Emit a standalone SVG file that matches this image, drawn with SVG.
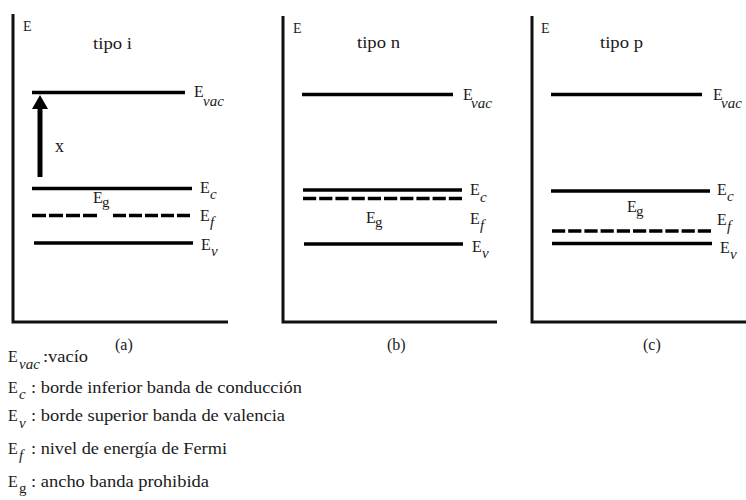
<svg xmlns="http://www.w3.org/2000/svg" width="746" height="500" viewBox="0 0 746 500" font-family="Liberation Serif, serif" font-size="16">
<style>
text { fill: #1a1a1a; }
.ax { font-size: 14px; }
.it { font-style: italic; }
.sb { font-size: 15px; }
.lvl { stroke: #000; stroke-width: 3.5; fill: none; }
.dash { stroke: #000; stroke-width: 3.5; fill: none; stroke-dasharray: 13.2 3; }
.axis { stroke: #111; stroke-width: 3; fill: none; }
</style>
<rect width="746" height="500" fill="#fff"/>

<g id="panel-a">
  <path class="axis" d="M13,14 V322 H228"/>
  <text class="ax" x="23" y="31">E</text>
  <text x="93" y="49" textLength="39" lengthAdjust="spacingAndGlyphs">tipo i</text>
  <line class="lvl" x1="32" y1="92.5" x2="185" y2="92.5"/>
  <line class="lvl" x1="32" y1="188.5" x2="192" y2="188.5"/>
  <line class="dash" x1="32" y1="215.5" x2="97" y2="215.5" style="stroke-dasharray:14 3"/>
  <line class="dash" x1="113" y1="215.5" x2="190" y2="215.5" style="stroke-dasharray:13 3"/>
  <line class="lvl" x1="34" y1="243" x2="193" y2="243"/>
  <text x="194" y="97">E</text><text class="it sb" x="203" y="106">vac</text>
  <text x="200" y="193">E</text><text class="it sb" x="210" y="199">c</text>
  <text x="200" y="221">E</text><text class="it sb" x="210" y="227">f</text>
  <text x="201" y="250">E</text><text class="it sb" x="211" y="256">v</text>
  <text x="93" y="203">E</text><text class="sb" x="102" y="207">g</text>
  <text x="55" y="152" style="font-size:18px">x</text>
  <text x="115" y="350">(a)</text>
</g>

<g id="panel-b">
  <path class="axis" d="M283,16 V322 H497"/>
  <text class="ax" x="293" y="33">E</text>
  <text x="357" y="48" textLength="43" lengthAdjust="spacingAndGlyphs">tipo n</text>
  <line class="lvl" x1="302" y1="94.5" x2="453" y2="94.5"/>
  <line class="lvl" x1="303" y1="190" x2="462" y2="190"/>
  <line class="dash" x1="303" y1="198.5" x2="462" y2="198.5"/>
  <line class="lvl" x1="304" y1="244" x2="463" y2="244"/>
  <text x="463" y="100">E</text><text class="it sb" x="471" y="108">vac</text>
  <text x="470" y="195">E</text><text class="it sb" x="480" y="202">c</text>
  <text x="470" y="224">E</text><text class="it sb" x="480" y="230">f</text>
  <text x="472" y="252">E</text><text class="it sb" x="482" y="258">v</text>
  <text x="366" y="223">E</text><text class="sb" x="375" y="227">g</text>
  <text x="387" y="350">(b)</text>
</g>

<g id="panel-c">
  <path class="axis" d="M532,16 V322 H746"/>
  <text class="ax" x="541" y="33">E</text>
  <text x="600" y="48" textLength="43" lengthAdjust="spacingAndGlyphs">tipo p</text>
  <line class="lvl" x1="551" y1="94.5" x2="702" y2="94.5"/>
  <line class="lvl" x1="551" y1="191" x2="710" y2="191"/>
  <line class="dash" x1="552" y1="231" x2="712" y2="231"/>
  <line class="lvl" x1="552" y1="243.5" x2="712" y2="243.5"/>
  <text x="713" y="100">E</text><text class="it sb" x="721" y="108">vac</text>
  <text x="717" y="195">E</text><text class="it sb" x="727" y="201">c</text>
  <text x="717" y="225">E</text><text class="it sb" x="727" y="231">f</text>
  <text x="720" y="253">E</text><text class="it sb" x="730" y="259">v</text>
  <text x="627" y="212">E</text><text class="sb" x="636" y="216">g</text>
  <text x="643" y="350">(c)</text>
</g>

<g id="connectors">
  <line x1="40" y1="177" x2="40" y2="106" stroke="#000" stroke-width="5"/>
  <polygon points="40,95 32,109 48,109" fill="#000"/>
</g>

<g id="legend">
  <text x="8" y="362">E</text><text class="it sb" x="19" y="369">vac</text><text x="43" y="362" textLength="45" lengthAdjust="spacingAndGlyphs">:vacío</text>
  <text x="8" y="393">E</text><text class="it sb" x="19" y="399">c</text><text x="31" y="393" textLength="271" lengthAdjust="spacingAndGlyphs">: borde inferior banda de conducción</text>
  <text x="8" y="421">E</text><text class="it sb" x="19" y="428">v</text><text x="31" y="421" textLength="254" lengthAdjust="spacingAndGlyphs">: borde superior banda de valencia</text>
  <text x="8" y="454">E</text><text class="it sb" x="19" y="460">f</text><text x="31" y="454" textLength="196" lengthAdjust="spacingAndGlyphs">: nivel de energía de Fermi</text>
  <text x="8" y="487">E</text><text class="sb" x="19" y="493">g</text><text x="31" y="487" textLength="178" lengthAdjust="spacingAndGlyphs">: ancho banda prohibida</text>
</g>
</svg>
